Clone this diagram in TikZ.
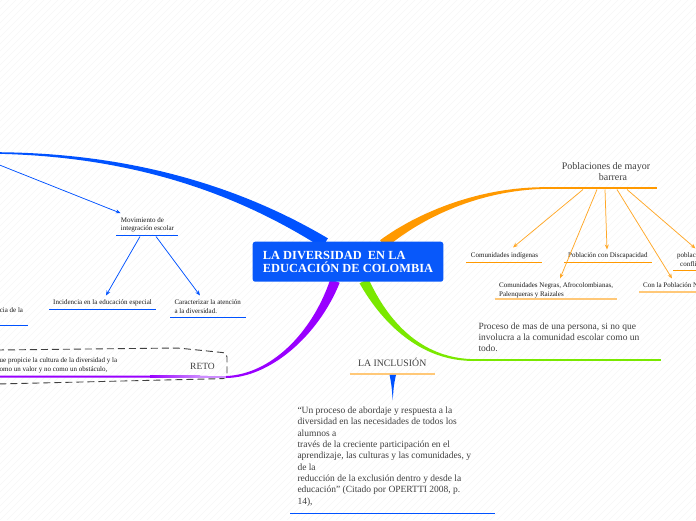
\documentclass[tikz,border=0pt]{standalone}
\usepackage{fontspec}
\setmainfont{Liberation Serif}
\usetikzlibrary{calc,arrows.meta}
\definecolor{cBlue}{RGB}{0,82,255}
\definecolor{cBox}{RGB}{8,88,250}
\definecolor{cOrange}{RGB}{255,153,0}
\definecolor{cOrangeA}{RGB}{255,168,40}
\definecolor{cOrangeL}{RGB}{255,200,120}
\definecolor{cPurple}{RGB}{153,0,255}
\definecolor{cPurpleL}{RGB}{205,140,255}
\definecolor{cGreen}{RGB}{122,232,0}
\definecolor{cText}{RGB}{64,64,64}
\newcommand\taper[9]{%
  \fill[#1] ($(#2)!#6!90:(#3)$) .. controls ($(#3)!#7!-90:(#2)$) and ($(#4)!#8!90:(#5)$) .. ($(#5)!#9!-90:(#4)$)
  -- ($(#5)!#9!90:(#4)$) .. controls ($(#4)!#8!-90:(#5)$) and ($(#3)!#7!90:(#2)$) .. ($(#2)!#6!-90:(#3)$) -- cycle;}
\tikzset{
  smalltext/.style={font=\fontsize{7}{8.5}\selectfont, text=black!90, inner sep=0pt, align=left},
  midtext/.style={font=\fontsize{9.5}{11.35}\selectfont, text=cText, inner sep=0pt, align=left},
  uline/.style={line width=1.2pt},
  barrow/.style={draw=cBlue, line width=0.75pt, -{Stealth[length=5pt,width=4pt]}},
  oarrow/.style={draw=cOrangeA, line width=0.75pt, -{Stealth[length=5pt,width=4pt]}},
  stripe/.style={draw=black!4, line width=0.35pt},
  rootbox/.style={fill=cBox, rounded corners=2.5pt, minimum width=190.6pt, minimum height=40pt,
    inner sep=0pt, align=left, text=white, font=\bfseries\fontsize{12.4}{13.4}\selectfont},
  retoline/.style={draw=black!75, line width=0.9pt, dash pattern=on 7pt off 4pt, rounded corners=4pt},
}
\begin{document}
\begin{tikzpicture}[x=1pt,y=-1pt]
\useasboundingbox (0,0) rectangle (696,520);
\clip (0,0) rectangle (696,520);
\fill[white] (0,0) rectangle (696,520);
\foreach \k in {-525,-518,...,700} \draw[stripe] (\k,520) -- (\k+520,0);

% main branches
\coordinate (bS) at (325,243); \coordinate (b1) at (255,200); \coordinate (b2) at (150,155); \coordinate (bE) at (-3,153);
\taper{cBlue}{bS}{b1}{b2}{bE}{5.5pt}{4.2pt}{1.8pt}{0.8pt}
\coordinate (pS) at (335,281); \coordinate (p1) at (315,335); \coordinate (p2) at (270,376); \coordinate (pE) at (226,377);
\taper{cPurple}{pS}{p1}{p2}{pE}{5pt}{3.3pt}{1.5pt}{1pt}
\coordinate (gS) at (364,281); \coordinate (g1) at (385,322); \coordinate (g2) at (420,359); \coordinate (gE) at (472,360);
\taper{cGreen}{gS}{g1}{g2}{gE}{5pt}{3pt}{1.5pt}{0.9pt}
\coordinate (oS) at (383,244); \coordinate (o1) at (420,215); \coordinate (o2) at (480,188); \coordinate (oE) at (548,188);
\taper{cOrange}{oS}{o1}{o2}{oE}{4.8pt}{3.3pt}{1.6pt}{0.8pt}

% central topic
\node[rootbox] (root) at (348,261.7) {LA DIVERSIDAD\ \ EN LA\\EDUCACIÓN DE COLOMBIA};

% ---- blue side
\node[smalltext, anchor=north west] (mov) at (120.7,217.2) {Movimiento de\\integración escolar};
\draw[cBlue, uline] (116,235.3) coordinate (movL) -- (178,235.3) coordinate (movR);
\coordinate (blueIn) at (-3,164);
\draw[barrow] (blueIn) -- ([yshift=4pt]mov.north west);
\coordinate (movA) at (140,236.5); \coordinate (movB) at (156,236.5);
\coordinate (incTip) at (106,295.5); \coordinate (carTip) at (200,295.5);
\node[smalltext, anchor=base west] (inc) at (53,304) {Incidencia en la educación especial};
\draw[cBlue, uline] (49,309.3) -- (156,309.3);
\node[smalltext, anchor=north west] (car) at (174.3,299.7) {Caracterizar la atención\\a la diversidad.};
\draw[cBlue, uline] (170,317.3) -- (246,317.3);
\draw[barrow] (movA) -- (incTip);
\draw[barrow] (movB) -- (carTip);
\node[smalltext, anchor=base east] (cia) at (23.3,312) {cia de la};
\draw[cBlue, uline] (-2,325.3) -- (28,325.3);

% ---- purple side (RETO)
\draw[retoline] (-3,350) -- (178,348) -- (227,353) -- (227,378.5) -- (-3,384);
\node[smalltext, anchor=north west] (retotxt) at (-0.5,357.7) {ue propicie la cultura de la diversidad y la\\omo un valor y no como un obstáculo,};
\node[midtext, anchor=base west] (reto) at (190,369) {RETO};
\draw[cPurple, line width=1.8pt] (pE) -- (157,376.6) -- (-3,376.6);
\shade[left color=cPurple, right color=cPurpleL] (150,375.7) rectangle (200,377.5);
\fill[cPurpleL] (199,375.7) rectangle (226,377.5);

% ---- orange side
\node[font=\fontsize{10}{11}\selectfont, text=cText, align=center, inner sep=0pt, anchor=north] (pob) at (606,162.2) {Poblaciones de mayor\\\hspace*{14pt}barrera};
\draw[cOrange, line width=1.5pt] (oE) -- (657,188) coordinate (pobR);
\coordinate (pA) at (583,189.5); \coordinate (pB) at (597,189.5); \coordinate (pC) at (605,189.5);
\coordinate (pD) at (617,189.5); \coordinate (pF) at (627,189.5);
\node[smalltext, anchor=base west] (indig) at (470.7,257.5) {Comunidades indígenas};
\draw[cOrange, uline] (466,262.3) -- (541.7,262.3);
\node[smalltext, anchor=base west] (disc) at (568,257.5) {Población con Discapacidad};
\draw[cOrange, uline] (564,262.3) -- (652,262.3);
\node[smalltext, anchor=north west] (negras) at (499,282.7) {Comunidades Negras, Afrocolombianas,\\Palenqueras y Raizales};
\draw[cOrangeL, line width=1.5pt] (495,299.2) -- (617,299.2);
\node[smalltext, anchor=base west] (conla) at (643,287.5) {Con la Población N};
\draw[cOrangeL, line width=2pt] (639,291.7) -- (699,291.7);
\node[smalltext, anchor=north west] (conf) at (677,252.7) {poblac\\\hspace*{3pt}confli};
\draw[cOrange, uline] (673,270.3) -- (699,270.3);
\coordinate (indTip) at (513,247.5); \coordinate (negTip) at (560,278.5);
\coordinate (disTip) at (607,249.5); \coordinate (conTip) at (672,278.5); \coordinate (cfTip) at (695.5,248.5);
\draw[oarrow] (pA) -- (indTip);
\draw[oarrow] (pB) -- (negTip);
\draw[oarrow] (pC) -- (disTip);
\draw[oarrow] (pD) -- (conTip);
\draw[oarrow] (pF) -- (cfTip);

% ---- green side
\node[midtext, anchor=north west] (proc) at (478.3,322.5) {Proceso de mas de una persona, si no que\\involucra a la comunidad escolar como un\\todo.};
\draw[cGreen, line width=1.8pt] (gE) -- (661,360);

% ---- inclusion
\node[font=\fontsize{9.8}{11}\selectfont, text=cText, inner sep=0pt, anchor=base] (incl) at (392.2,366) {LA INCLUSIÓN};
\draw[cOrangeL, line width=1.5pt] (350,374) -- (435,374);
\coordinate (wL) at (389.6,374.8); \coordinate (wR) at (396,374.8); \coordinate (wT) at (392.7,400);
\fill[cBlue] (wL) .. controls (391.5,385) .. (wT) .. controls (393.8,385) .. (wR) -- cycle;
\node[midtext, anchor=north west] (quote) at (297.3,406.5) {“Un proceso de abordaje y respuesta a la\\diversidad en las necesidades de todos los\\alumnos a\\través de la creciente participación en el\\aprendizaje, las culturas y las comunidades, y\\de la\\reducción de la exclusión dentro y desde la\\educación” (Citado por OPERTTI 2008, p.\\14),};
\draw[cBlue, uline] (290,513.3) -- (495,513.3);
\end{tikzpicture}
\end{document}
